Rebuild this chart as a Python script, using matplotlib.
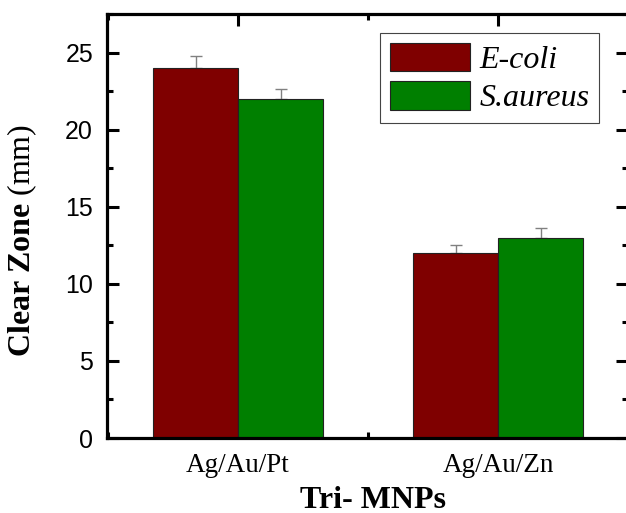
import matplotlib
matplotlib.use("Agg")
import matplotlib.pyplot as plt
import numpy as np
from matplotlib.ticker import MultipleLocator

plt.rcParams['mathtext.fontset'] = 'custom'
plt.rcParams['mathtext.rm'] = 'Liberation Serif'
plt.rcParams['mathtext.bf'] = 'Liberation Serif:bold'
plt.rcParams['mathtext.it'] = 'Liberation Serif:italic'

categories = ["Ag/Au/Pt", "Ag/Au/Zn"]
series_names = ["E-coli", "S.aureus"]
ecoli = [24.0, 12.0]
ecoli_err = [0.75, 0.5]
saureus = [22.0, 13.0]
saureus_err = [0.65, 0.6]
colors = ["#7f0000", "#007f00"]

fig = plt.figure(figsize=(6.26, 5.13), dpi=100)
ax = fig.add_axes([107/626, 75/513, (628-107)/626, (438-14)/513])

x = np.arange(len(categories))
w = 0.327
for i, (vals, errs, name, c) in enumerate(zip([ecoli, saureus], [ecoli_err, saureus_err], series_names, colors)):
    pos = x + (i - 0.5) * w
    ax.bar(pos, vals, width=w, color=c, edgecolor="#222222", linewidth=0.8, label=name, zorder=2)
    ax.errorbar(pos, vals, yerr=[np.zeros(len(vals)), errs], fmt='none', ecolor="#808080",
                elinewidth=1.0, capsize=4, capthick=1.0, zorder=1)

ax.set_xlim(-0.504, 1.5)
ax.set_ylim(0, 27.5)
ax.set_xticks(x)
ax.set_xticklabels(categories, fontfamily="Liberation Serif", fontsize=19.5)
ax.xaxis.set_minor_locator(MultipleLocator(0.5))
ax.yaxis.set_major_locator(MultipleLocator(5))
ax.yaxis.set_minor_locator(MultipleLocator(2.5))
for lab in ax.get_yticklabels():
    lab.set_fontfamily("Liberation Sans")
    lab.set_fontsize(18)

ax.tick_params(which='both', direction='in', top=True, right=True, width=2.2)
ax.tick_params(which='major', length=8.5)
ax.tick_params(which='minor', length=4.5)
ax.tick_params(axis='y', pad=10)
ax.tick_params(axis='x', pad=11)
for s in ax.spines.values():
    s.set_linewidth(2.3)

ax.set_ylabel(r"$\mathbf{Clear\ Zone}$ (mm)", fontfamily="Liberation Serif", fontsize=23,
              va="center", ha="center")
ax.yaxis.set_label_coords(-(107-22)/521, (438-240)/424)
ax.set_xlabel("Tri- MNPs", fontfamily="Liberation Serif", fontweight="bold", fontsize=23,
              va="center", ha="center")
ax.xaxis.set_label_coords((373-107)/521, -(500-438)/424)

leg = ax.legend(loc="upper right", bbox_to_anchor=((599-107)/521, (438-33)/424),
                prop={"family": "Liberation Serif", "style": "italic", "size": 23},
                frameon=True, fancybox=False, edgecolor="#444444", framealpha=1,
                handlelength=2.5, handleheight=1.0, handletextpad=0.3,
                borderpad=0.3, labelspacing=0.2, borderaxespad=0)
leg.get_frame().set_linewidth(0.8)

fig.savefig("out.png", dpi=100)
